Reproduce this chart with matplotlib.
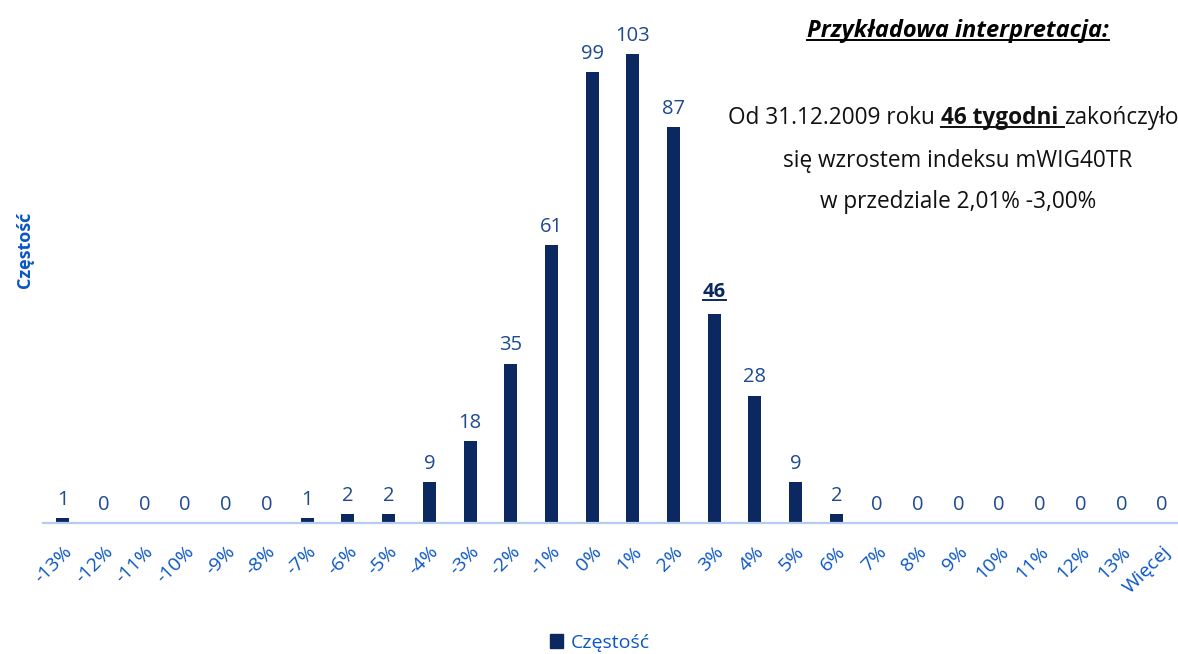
import matplotlib.pyplot as plt
from matplotlib.patches import Patch

plt.rcParams['font.family'] = ['Open Sans', 'DejaVu Sans']

# Data
categories = ["-13%", "-12%", "-11%", "-10%", "-9%", "-8%", "-7%", "-6%", "-5%", "-4%",
              "-3%", "-2%", "-1%", "0%", "1%", "2%", "3%", "4%", "5%", "6%",
              "7%", "8%", "9%", "10%", "11%", "12%", "13%", "Więcej"]
counts = [1, 0, 0, 0, 0, 0, 1, 2, 2, 9,
          18, 35, 61, 99, 103, 87, 46, 28, 9, 2,
          0, 0, 0, 0, 0, 0, 0, 0]
highlight = "3%"

BAR = "#0C2860"
LABEL = "#1F4A8E"
TICK = "#0A55C5"
AXIS = "#B4CCF0"

W, H = 1178, 654
fig = plt.figure(figsize=(W / 100, H / 100), dpi=100)
ax = fig.add_axes([42.6 / W, (H - 523) / H, (1182.4 - 42.6) / W, 523 / H])

x = list(range(len(categories)))
ax.bar(x, counts, width=0.32, color=BAR)
ax.set_xlim(-0.5, len(categories) - 0.5)
ax.set_ylim(0, 523 / 4.553)

for s in ["top", "right", "left"]:
    ax.spines[s].set_visible(False)
ax.spines["bottom"].set_color(AXIS)
ax.spines["bottom"].set_linewidth(1.6)
ax.set_yticks([])
ax.set_xticks(x)
ax.set_xticklabels(categories, rotation=45, ha="right", va="top",
                   rotation_mode="anchor", color=TICK, fontsize=14)
ax.tick_params(axis="x", length=0, pad=14)

label_texts = []
for xi, cat, v in zip(x, categories, counts):
    if cat == highlight:
        t = ax.annotate(str(v), (xi, v), xytext=(0, 8), textcoords="offset points",
                        ha="center", va="bottom", fontsize=14.5, fontweight="bold", color=BAR)
        label_texts.append(t)
    else:
        ax.annotate(str(v), (xi, v), xytext=(0, 6), textcoords="offset points",
                    ha="center", va="bottom", fontsize=14.5, color=LABEL)

fig.text(25 / W, 1 - 250 / H, "Częstość", rotation=90, ha="center", va="center",
         fontsize=13, fontweight="bold", color=TICK)

fig.legend(handles=[Patch(color=BAR)], labels=["Częstość"], loc="center",
           bbox_to_anchor=(600 / W, 1 - 643 / H), frameon=False, fontsize=14,
           handlelength=0.7, handleheight=0.7, handletextpad=0.4, labelcolor=TICK)

# Annotation text block
title = fig.text(958 / W, 1 - 37 / H, "Przykładowa interpretacja:", ha="center",
                 va="baseline", fontsize=17, fontweight="bold", fontstyle="italic",
                 color="black")
fig.text(958 / W, 1 - 167 / H, "się wzrostem indeksu mWIG40TR", ha="center",
         va="baseline", fontsize=16.3, color="#111111")
fig.text(958 / W, 1 - 208 / H, "w przedziale 2,01% -3,00%", ha="center",
         va="baseline", fontsize=16.3, color="#111111")

fig.canvas.draw()
r = fig.canvas.get_renderer()
inv = fig.transFigure.inverted()

pieces = [("Od 31.12.2009 roku ", "normal", False),
          ("46 tygodni ", "bold", True),
          ("zakończyło", "normal", False)]
px = 728
base_y = H - 124
underlined = [title] + label_texts
for s, w, u in pieces:
    t = fig.text(px / W, base_y / H, s, ha="left", va="baseline", fontsize=16.3,
                 fontweight=w, color="#111111")
    ext = t.get_window_extent(r)
    if u:
        underlined.append(t)
    px += ext.width

fig.canvas.draw()
for t in underlined:
    ext = t.get_window_extent(r)
    y0 = ext.y0 + 2 if t in label_texts else ext.y0 + 3
    (fx0, fy), (fx1, _) = inv.transform([(ext.x0, y0), (ext.x1, y0)])
    fig.add_artist(plt.Line2D([fx0, fx1], [fy, fy], color=t.get_color(), lw=1.4))

fig.savefig("out.png", dpi=100)
